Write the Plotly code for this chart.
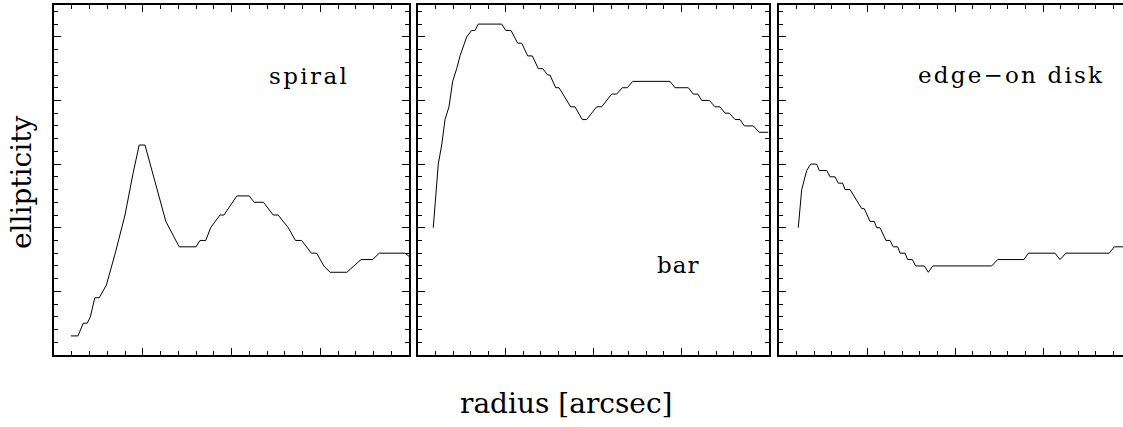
import plotly.graph_objects as go

# Ellipticity profiles (radius in arbitrary units, ellipticity 0..0.55)
spiral_r = [1.9, 2.7, 3.3, 3.75, 4.1, 4.6, 5.1, 5.9, 6.9, 8.0, 8.9, 9.6, 10.25,
            11.4, 12.6, 14.1, 16.0, 16.45, 17.1, 17.65, 18.7, 19.15, 20.6, 22.0,
            22.55, 23.6, 24.7, 25.25, 26.4, 27.2, 27.9, 29.0, 29.6, 30.4, 31.1,
            33.0, 33.8, 34.6, 35.9, 36.65, 39.55, 40.0]
spiral_e = [0.03, 0.03, 0.05, 0.05, 0.06, 0.09, 0.09, 0.11, 0.16, 0.22, 0.285,
            0.33, 0.33, 0.272, 0.21, 0.17, 0.17, 0.18, 0.18, 0.20, 0.22, 0.22,
            0.25, 0.25, 0.24, 0.24, 0.22, 0.22, 0.20, 0.18, 0.18, 0.16, 0.16,
            0.14, 0.13, 0.13, 0.14, 0.15, 0.15, 0.16, 0.16, 0.155]

bar_r = [1.74, 1.94, 2.31, 2.70, 3.08, 3.53, 3.95, 4.41, 4.79, 5.55, 6.12, 6.50,
         6.87, 9.54, 9.99, 10.60, 11.36, 11.82, 12.50, 13.03, 13.71, 14.21,
         14.78, 15.04, 15.69, 16.07, 17.40, 17.89, 18.72, 19.22, 20.36, 20.93,
         22.07, 22.64, 23.28, 23.85, 24.47, 28.72, 29.29, 30.80, 31.37, 31.90,
         32.33, 33.20, 33.85, 34.42, 34.99, 35.48, 36.13, 36.70, 37.19, 38.21,
         38.89, 39.92]
bar_e = [0.20, 0.24, 0.30, 0.33, 0.37, 0.39, 0.43, 0.45, 0.47, 0.50, 0.51, 0.51,
         0.52, 0.52, 0.51, 0.51, 0.49, 0.49, 0.47, 0.47, 0.45, 0.45, 0.44, 0.44,
         0.42, 0.42, 0.39, 0.39, 0.37, 0.37, 0.39, 0.39, 0.41, 0.41, 0.42, 0.42,
         0.43, 0.43, 0.42, 0.42, 0.41, 0.41, 0.40, 0.40, 0.39, 0.39, 0.38, 0.38,
         0.37, 0.37, 0.36, 0.36, 0.35, 0.35]

disk_r = [2.19, 2.58, 3.15, 3.60, 4.28, 4.58, 5.42, 5.80, 6.36, 6.74, 7.24, 7.50,
          8.07, 8.90, 9.40, 9.69, 10.34, 10.83, 11.10, 11.48, 12.16, 12.61,
          12.99, 13.49, 13.75, 14.32, 14.62, 15.15, 15.53, 16.51, 16.97, 17.47,
          24.17, 24.85, 27.84, 28.33, 31.36, 31.93, 32.61, 37.53, 38.10, 40.0]
disk_e = [0.20, 0.26, 0.29, 0.30, 0.30, 0.29, 0.29, 0.28, 0.28, 0.27, 0.27, 0.26,
          0.26, 0.24, 0.23, 0.23, 0.21, 0.21, 0.20, 0.20, 0.18, 0.18, 0.17, 0.17,
          0.16, 0.16, 0.15, 0.15, 0.14, 0.14, 0.13, 0.14, 0.14, 0.15, 0.15, 0.16,
          0.16, 0.15, 0.16, 0.16, 0.17, 0.17]

panel_labels = ["spiral", "bar", "edge\u2212on disk"]
x_title = "radius [arcsec]"
y_title = "ellipticity"

W, H = 1123, 427
FONT = "DejaVu Serif"

fig = go.Figure()
series = [(spiral_r, spiral_e), (bar_r, bar_e), (disk_r, disk_e)]
for i, (r, e) in enumerate(series):
    sfx = "" if i == 0 else str(i + 1)
    fig.add_trace(go.Scatter(x=r, y=e, mode="lines",
                             line=dict(color="black", width=1),
                             xaxis="x" + sfx, yaxis="y" + sfx,
                             showlegend=False, hoverinfo="skip"))

# panel extents in pixels (the last panel runs past the right edge)
panels_px = [(54, 409), (418, 769), (779, 1123)]
full_width_px = [355, 351, 352]
y_dom = [1 - 355 / H, 1 - 5 / H]

common_x = dict(showgrid=False, zeroline=False, showticklabels=False,
                showline=True, linecolor="black", linewidth=2,
                ticks="inside", ticklen=7, tickwidth=1, tickcolor="black",
                dtick=10, tick0=0,
                minor=dict(dtick=2, tick0=0, ticks="inside", ticklen=4,
                           tickwidth=1, tickcolor="black"))
common_y = dict(showgrid=False, zeroline=False, showticklabels=False,
                showline=True, linecolor="black", linewidth=2,
                ticks="inside", ticklen=7, tickwidth=1, tickcolor="black",
                dtick=0.1, tick0=0, range=[0, 0.55],
                minor=dict(dtick=0.02, tick0=0, ticks="inside", ticklen=4,
                           tickwidth=1, tickcolor="black"))

layout = dict(width=W, height=H, margin=dict(l=0, r=0, t=0, b=0),
              paper_bgcolor="white", plot_bgcolor="white",
              font=dict(family=FONT, color="black"))
for i, ((x0, x1), fw) in enumerate(zip(panels_px, full_width_px)):
    sfx = "" if i == 0 else str(i + 1)
    xmax = 40 * (x1 - x0) / fw
    xa = dict(common_x, domain=[x0 / W, x1 / W], range=[0, xmax],
              anchor="y" + sfx, mirror="ticks")
    ya = dict(common_y, domain=y_dom, anchor="x" + sfx,
              mirror="ticks" if i < 2 else False)
    layout["xaxis" + sfx] = xa
    layout["yaxis" + sfx] = ya

fig.update_layout(**layout)

# panel labels: (centre x px, centre y px, font size, letter spacing px)
label_pos = [(309, 76, 23, 2.4), (678, 265, 23, 1.0), (1011, 75, 23, 2.2)]
for text, (px, py, fs, ls) in zip(panel_labels, label_pos):
    fig.add_annotation(text=f"<span style='letter-spacing:{ls}px'>{text}</span>",
                       xref="paper", yref="paper",
                       x=px / W, y=1 - py / H, xanchor="center",
                       yanchor="middle", showarrow=False,
                       font=dict(family=FONT, size=fs, color="black"))

fig.add_annotation(text=x_title, xref="paper", yref="paper",
                   x=566 / W, y=1 - 403 / H, xanchor="center", yanchor="middle",
                   showarrow=False, font=dict(family=FONT, size=28, color="black"))
fig.add_annotation(text=y_title, xref="paper", yref="paper",
                   x=21 / W, y=1 - 183 / H, xanchor="center", yanchor="middle",
                   textangle=-90, showarrow=False,
                   font=dict(family=FONT, size=28, color="black"))

fig.write_html("out.html")
